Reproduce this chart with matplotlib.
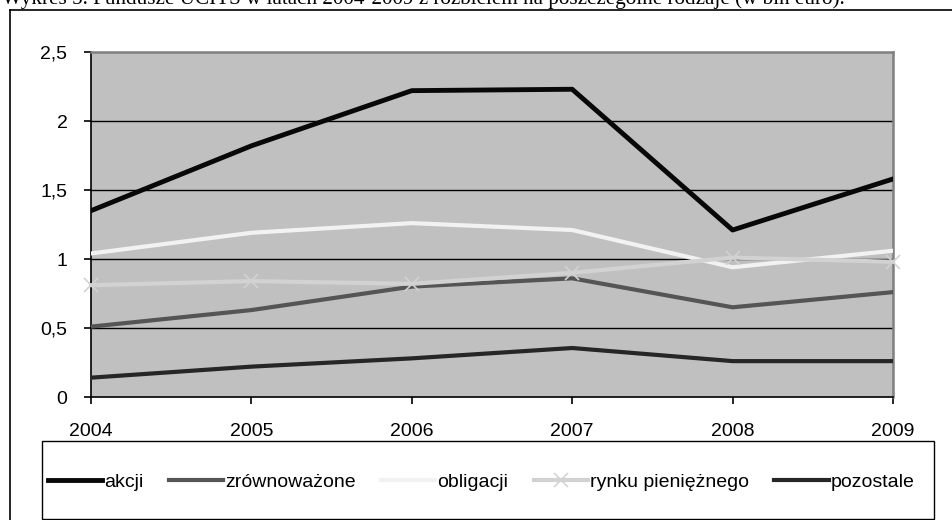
import matplotlib

matplotlib.use("Agg")
import matplotlib.pyplot as plt
from matplotlib.lines import Line2D
from matplotlib.patches import Rectangle

plt.rcParams["font.family"] = ["Liberation Sans", "DejaVu Sans"]

TITLE = ("Wykres 5. Fundusze UCITS w latach 2004-2009 z rozbiciem "
         "na poszczególne rodzaje (w bln euro).")

years = [2004, 2005, 2006, 2007, 2008, 2009]
akcji = [1.35, 1.82, 2.22, 2.23, 1.21, 1.58]
zrownowazone = [0.51, 0.63, 0.80, 0.86, 0.65, 0.76]
obligacji = [1.04, 1.19, 1.26, 1.21, 0.94, 1.06]
rynku_pienieznego = [0.81, 0.84, 0.82, 0.90, 1.01, 0.98]
pozostale = [0.14, 0.22, 0.28, 0.355, 0.26, 0.26]

y_ticks = [0, 0.5, 1, 1.5, 2, 2.5]
y_labels = ["0", "0,5", "1", "1,5", "2", "2,5"]

W, H = 953, 520
fig = plt.figure(figsize=(W / 100, H / 100), dpi=100)


def fx(px):
    return px / W


def fy(py):
    return 1 - py / H


# title runs along the very top edge of the page
fig.text(fx(2), fy(4), TITLE, family="Liberation Serif", fontsize=15.2,
         ha="left", va="baseline")

# outer frame (top and left edges only)
fig.add_artist(Line2D([fx(10), 1], [fy(10), fy(10)], color="black", lw=1.2))
fig.add_artist(Line2D([fx(10), fx(10)], [fy(10), 0], color="black", lw=1.2))

ax = fig.add_axes([fx(91), fy(397), fx(893 - 91), (397 - 52) / H])
ax.set_facecolor("#c0c0c0")

ax.plot(years, akcji, color="#080808", lw=3.5, label="akcji", zorder=3)
ax.plot(years, zrownowazone, color="#555555", lw=3, label="zrównoważone", zorder=3)
ax.plot(years, obligacji, color="#f2f2f2", lw=3, label="obligacji", zorder=3)
ax.plot(years, rynku_pienieznego, color="#d2d2d2", lw=3, marker="x", ms=10,
        mew=1.2, label="rynku pieniężnego", zorder=3, clip_on=False)
ax.plot(years, pozostale, color="#262626", lw=3, label="pozostale", zorder=3)

ax.set_xlim(2004, 2009)
ax.set_ylim(0, 2.5)
ax.set_xticks(years)
ax.set_xticklabels([str(y) for y in years])
ax.set_yticks(y_ticks)
ax.set_yticklabels(y_labels)
ax.tick_params(axis="both", direction="out", labelsize=14, colors="black")
ax.tick_params(axis="y", length=5, width=1.2, pad=12)
ax.tick_params(axis="x", length=5, width=1.2, pad=14)

for y in y_ticks[1:-1]:
    ax.axhline(y, color="black", lw=1, zorder=1)

for side in ("top", "right"):
    ax.spines[side].set_color("#808080")
    ax.spines[side].set_linewidth(1.8)
for side in ("left", "bottom"):
    ax.spines[side].set_color("black")
    ax.spines[side].set_linewidth(1.2)

# legend box below the plot
fig.add_artist(Rectangle((fx(42), fy(519)), fx(934 - 42), (519 - 441) / H,
                         transform=fig.transFigure, facecolor="white",
                         edgecolor="black", lw=1, zorder=-1))
handles, labels = ax.get_legend_handles_labels()
fig.legend(handles, labels, loc="center", bbox_to_anchor=(fx(481), fy(482)),
           ncol=5, frameon=False, fontsize=14, handlelength=2.8,
           handletextpad=0.1, columnspacing=1.3, borderpad=0)

fig.savefig("out.png", dpi=100)
